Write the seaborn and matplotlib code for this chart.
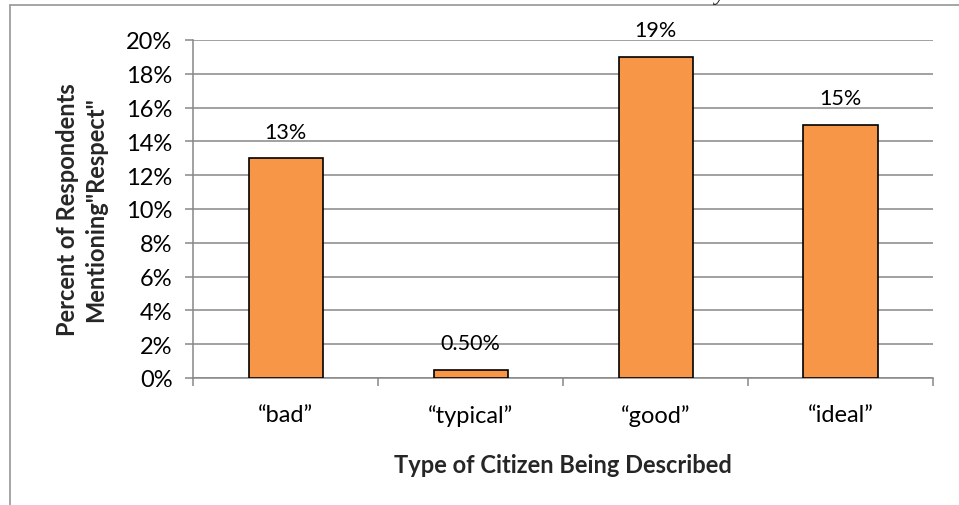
import matplotlib
matplotlib.use("Agg")
import matplotlib.pyplot as plt
import seaborn as sns
import pandas as pd
from matplotlib.lines import Line2D

categories = ["\u201cbad\u201d", "\u201ctypical\u201d", "\u201cgood\u201d", "\u201cideal\u201d"]
values = [13.0, 0.5, 19.0, 15.0]
value_labels = ["13%", "0.50%", "19%", "15%"]
y_ticks = [0, 2, 4, 6, 8, 10, 12, 14, 16, 18, 20]
y_tick_labels = [f"{t}%" for t in y_ticks]

sns.set_theme(style="white")
plt.rcParams['font.family'] = ['Lato', 'DejaVu Sans']

df = pd.DataFrame({"cat": categories, "val": values})

fig = plt.figure(figsize=(9.59, 5.06), dpi=100)
ax = fig.add_axes([193/959, 1-379/506, 740/959, 338/506])

grid_c = "#878787"
sns.barplot(data=df, x="cat", y="val", color="#F79646", width=0.4,
            edgecolor="black", linewidth=1.2, saturation=1, ax=ax, zorder=3)

ax.set_ylim(0, 20)
ax.set_xlim(-0.5, len(categories) - 0.5)
ax.set_yticks(y_ticks)
ax.set_yticklabels(y_tick_labels, fontsize=17)
ax.yaxis.grid(True, color=grid_c, linewidth=1.1, zorder=0)
ax.set_axisbelow(True)

for s in ["top", "right"]:
    ax.spines[s].set_visible(False)
ax.spines["left"].set_color(grid_c)
ax.spines["bottom"].set_color(grid_c)
ax.spines["left"].set_linewidth(1.1)
ax.spines["bottom"].set_linewidth(1.1)

ax.tick_params(axis="y", which="major", left=True, length=5.8, width=1.1, color=grid_c, pad=9, labelcolor="black")
ax.tick_params(axis="x", which="major", bottom=False, labelsize=17, pad=13, labelcolor="black")
ax.set_xticks(range(len(categories)))
ax.set_xticklabels(categories)
ax.set_xticks([i - 0.5 for i in range(len(categories) + 1)], minor=True)
ax.tick_params(axis="x", which="minor", bottom=True, length=5.8, width=1.1, color=grid_c)

ax.bar_label(ax.containers[0], labels=value_labels, padding=12, fontsize=15.5, color="black")

ax.set_xlabel("Type of Citizen Being Described", fontsize=17, fontweight="bold")
ax.set_ylabel("Percent of Respondents\nMentioning\"Respect\"", fontsize=17, fontweight="bold", linespacing=1.25)
ax.xaxis.set_label_coords(0.5, -0.222)
ax.yaxis.set_label_coords(-0.116, 0.5)

frame_c = "#9E9E9E"
fig.add_artist(Line2D([10/959, 10/959], [1-6/506, 0], color=frame_c, lw=1.3, transform=fig.transFigure))
fig.add_artist(Line2D([10/959, 1], [1-6/506, 1-6/506], color=frame_c, lw=1.3, transform=fig.transFigure))
fig.text(720/959, 1.0, "y", family="Liberation Serif", fontsize=17, style="italic", ha="center", va="baseline")

fig.savefig("out.png", dpi=100)
